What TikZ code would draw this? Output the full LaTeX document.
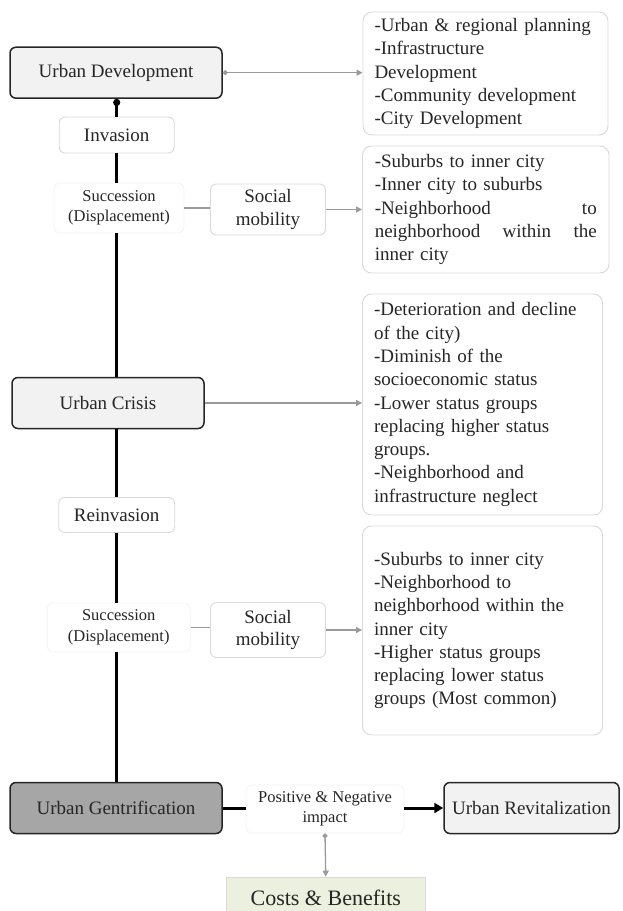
\documentclass[tikz,border=0pt]{standalone}
\usepackage{fontspec}
\setmainfont{Liberation Serif}
\usetikzlibrary{arrows.meta}
\definecolor{txt}{HTML}{262626}
\definecolor{lgray}{HTML}{F2F2F2}
\definecolor{dgray}{HTML}{A6A6A6}
\definecolor{bord}{HTML}{D9D9D9}
\definecolor{faint}{HTML}{F4F4F4}
\definecolor{conn}{HTML}{9A9A9A}
\definecolor{lgreen}{HTML}{EBF1DE}
\begin{document}
\begin{tikzpicture}[x=1pt,y=-1pt,
  every node/.style={text=txt, inner sep=0pt},
  big/.style={font=\fontsize{19}{23}\selectfont},
  small/.style={font=\fontsize{16.5}{20.5}\selectfont, align=center},
  mainbox/.style={big, draw=black!85, line width=1.5pt, rounded corners=6pt, fill=lgray, minimum height=51pt},
  listbox/.style={big, draw=bord, line width=0.9pt, rounded corners=9pt, fill=white, align=left, font=\fontsize{19}{23.3}\selectfont},
  softbox/.style={big, draw=bord, line width=0.9pt, rounded corners=6pt, fill=white, align=center, font=\fontsize{19}{22.7}\selectfont},
  faintbox/.style={small, draw=faint, line width=0.8pt, rounded corners=6pt, fill=white},
  spine/.style={line width=3pt, black},
  gconn/.style={line width=1.3pt, conn},
  garrow/.style={gconn, -{Triangle[length=6pt,width=6pt]}},
  ]
\useasboundingbox (0,0) rectangle (622,911);
% main boxes
\node[mainbox, minimum width=212pt] (ud) at (116,72.7) {Urban Development};
\node[mainbox, minimum width=192pt] (uc) at (108,403) {Urban Crisis};
\node[mainbox, minimum width=212pt, fill=dgray] (ug) at (116,808) {Urban Gentrification};
\node[mainbox, minimum width=175pt] (ur) at (531.5,808) {Urban Revitalization};
% list boxes
\node[listbox, minimum width=245pt, minimum height=123pt, text width=222pt] (b1) at (485.5,73.5)
  {-Urban \& regional planning\\-Infrastructure\\Development\\-Community development\\-City Development};
\node[listbox, minimum width=246.5pt, minimum height=127pt, text width=222pt] (b2) at (485.75,209.5)
  {-Suburbs to inner city\\-Inner city to suburbs\\-Neighborhood\hfill to\\neighborhood\hfill within\hfill the\\inner city};
\node[listbox, minimum width=240pt, minimum height=221pt, text width=217pt] (b3) at (482.5,404.5)
  {-Deterioration and decline\\of the city)\\-Diminish of the\\socioeconomic status\\-Lower status groups\\replacing higher status\\groups.\\-Neighborhood and\\infrastructure neglect};
\node[listbox, minimum width=240pt, minimum height=209pt, text width=217pt] (b4) at (482.5,630.5)
  {-Suburbs to inner city\\-Neighborhood to\\neighborhood within the\\inner city\\-Higher status groups\\replacing lower status\\groups (Most common)};
% small boxes
\node[softbox, minimum width=115pt, minimum height=36pt] (inv) at (116.7,135) {Invasion};
\node[faintbox, minimum width=130pt, minimum height=50pt] (s1) at (119,208) {Succession\\(Displacement)};
\node[softbox, minimum width=115pt, minimum height=51pt] (m1) at (268,209.5) {Social\\mobility};
\node[softbox, minimum width=116pt, minimum height=35pt] (rinv) at (116.7,515) {Reinvasion};
\node[faintbox, minimum width=143pt, minimum height=49pt] (s2) at (118.7,627.5) {Succession\\(Displacement)};
\node[softbox, minimum width=115pt, minimum height=55pt] (m2) at (268,630) {Social\\mobility};
\node[faintbox, minimum width=158pt, minimum height=48pt] (pn) at (325,809) {Positive \& Negative\\impact};
\node[draw=bord, line width=0.8pt, fill=lgreen, minimum width=199.5pt, minimum height=46pt, anchor=north,
  font=\fontsize{22}{26}\selectfont] (cb) at (325.75,876.7) {\raisebox{4pt}{Costs \& Benefits}};
% spine
\draw[spine, {Circle[length=7pt,width=7pt]}-] (ud.south -| inv.north) -- (inv.north);
\draw[spine] (inv.south) -- (inv.south |- s1.north);
\draw[spine] (inv.south |- s1.south) -- (inv.south |- uc.north);
\draw[spine] (inv.south |- uc.south) -- (rinv.north);
\draw[spine] (rinv.south) -- (rinv.south |- s2.north);
\draw[spine] (rinv.south |- s2.south) -- (rinv.south |- ug.north);
% grey connectors
\draw[garrow, {Circle[length=5pt,width=5pt]}-{Triangle[length=6pt,width=6pt]}] (ud.east) -- (ud.east -| b1.west);
\draw[gconn] (s1.east) -- (s1.east -| m1.west);
\draw[garrow] (m1.east) -- (m1.east -| b2.west);
\draw[garrow] (uc.east) -- (uc.east -| b3.west);
\draw[gconn] (s2.east) -- (s2.east -| m2.west);
\draw[garrow] (m2.east) -- (m2.east -| b4.west);
\draw[garrow, {Circle[length=5pt,width=5pt]}-{Triangle[length=6pt,width=6pt]}] (pn.south) -- (cb.north);
% bottom black connectors
\draw[line width=3pt] (ug.east) -- (ug.east -| pn.west);
\draw[line width=3pt, -{Triangle[length=9pt,width=10pt]}] (pn.east |- ug.east) -- (ur.west);
\end{tikzpicture}
\end{document}
